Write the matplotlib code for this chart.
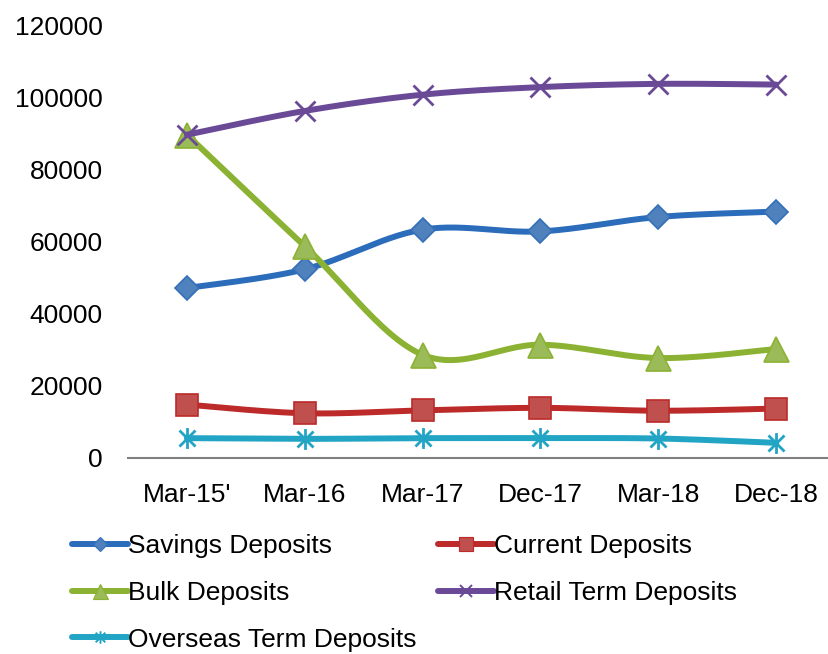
import numpy as np
import matplotlib
matplotlib.use('Agg')
import matplotlib.pyplot as plt
from matplotlib.path import Path

# Data
periods = ["Mar-15'", "Mar-16", "Mar-17", "Dec-17", "Mar-18", "Dec-18"]
savings = [47100, 52300, 63300, 62800, 66800, 68300]
current = [14800, 12400, 13200, 13900, 13100, 13700]
bulk = [89600, 58700, 28600, 31400, 27700, 30200]
retail = [89600, 96200, 100700, 102800, 103700, 103500]
overseas = [5500, 5300, 5500, 5500, 5400, 4200]

plt.rcParams['font.family'] = ['Liberation Sans', 'DejaVu Sans']

# star marker like excel's (x plus vertical bar)
star = Path([(-1, -1), (1, 1), (-1, 1), (1, -1), (0, -1.3), (0, 1.3)],
            [Path.MOVETO, Path.LINETO, Path.MOVETO, Path.LINETO, Path.MOVETO, Path.LINETO])


def smooth(y, n=30):
    # bezier smoothing the way excel does it (catmull-rom control points)
    x = np.arange(len(y), dtype=float)
    y = np.asarray(y, dtype=float)
    px = np.concatenate([[x[0]], x, [x[-1]]])
    py = np.concatenate([[y[0]], y, [y[-1]]])
    xs, ys = [], []
    t = np.linspace(0, 1, n)
    for i in range(len(x) - 1):
        p0 = np.array([px[i + 1], py[i + 1]])
        p3 = np.array([px[i + 2], py[i + 2]])
        p1 = p0 + (p3 - np.array([px[i], py[i]])) / 6
        p2 = p3 - (np.array([px[i + 3], py[i + 3]]) - p0) / 6
        b = ((1 - t) ** 3)[:, None] * p0 + (3 * (1 - t) ** 2 * t)[:, None] * p1 \
            + (3 * (1 - t) * t ** 2)[:, None] * p2 + (t ** 3)[:, None] * p3
        xs.append(b[:, 0])
        ys.append(b[:, 1])
    return np.concatenate(xs), np.concatenate(ys)


series = [
    ("Savings Deposits", savings, '#2B6CBB', 'D', 12.5, '#4F81BD', '#3570BA'),
    ("Current Deposits", current, '#BC2A2A', 's', 16, '#C0504D', '#BC2A2A'),
    ("Bulk Deposits", bulk, '#8BB232', '^', 18, '#9BBB59', '#8BB232'),
    ("Retail Term Deposits", retail, '#6A4A97', 'x', 15, '#6A4A97', '#6A4A97'),
    ("Overseas Term Deposits", overseas, '#22A4C5', star, 15, '#22A4C5', '#22A4C5'),
]

fig = plt.figure(figsize=(8.29, 6.54), dpi=100)
ax = fig.add_axes([0.1544, 0.2997, 0.853, 0.662])

handles = []
for i, (name, vals, lc, mk, ms, fc, ec) in enumerate(series):
    sx, sy = smooth(vals)
    ax.plot(sx, sy, color=lc, lw=4.3, solid_capstyle='round', zorder=2 + i)
    mew = 2 if mk in ('x',) or mk is star else 1.2
    ax.plot(range(len(vals)), vals, linestyle='none', marker=mk, markersize=ms,
            markerfacecolor=fc, markeredgecolor=ec, markeredgewidth=mew, zorder=2 + i)
    h, = ax.plot([], [], color=lc, lw=4.3, solid_capstyle='round', marker=mk,
                 markersize=ms * 0.6, markerfacecolor=fc, markeredgecolor=ec,
                 markeredgewidth=mew * 0.7, label=name)
    handles.append(h)

ax.set_xlim(-0.5, len(periods) - 0.5)
ax.set_ylim(0, 120000)
ax.set_yticks(range(0, 120001, 20000))
ax.set_xticks(range(len(periods)))
ax.set_xticklabels(periods)
ax.tick_params(axis='both', length=0, labelsize=19, colors='black')
ax.tick_params(axis='x', pad=18)
ax.tick_params(axis='y', pad=18)
for s in ['top', 'right', 'left']:
    ax.spines[s].set_visible(False)
ax.spines['bottom'].set_color('#808080')
ax.spines['bottom'].set_linewidth(1.5)
ax.spines['bottom'].set_zorder(1)

# legend fills row by row in the reference: reorder for matplotlib's column fill
order = [0, 2, 4, 1, 3]
fig.legend(handles=[handles[k] for k in order], loc='upper left',
           bbox_to_anchor=(0.087, 0.183),
           ncol=2, frameon=False, fontsize=19, handlelength=2.1,
           handletextpad=0.0, columnspacing=0.85, labelspacing=0.86,
           borderaxespad=0, borderpad=0)

fig.savefig('out.png', dpi=100)
